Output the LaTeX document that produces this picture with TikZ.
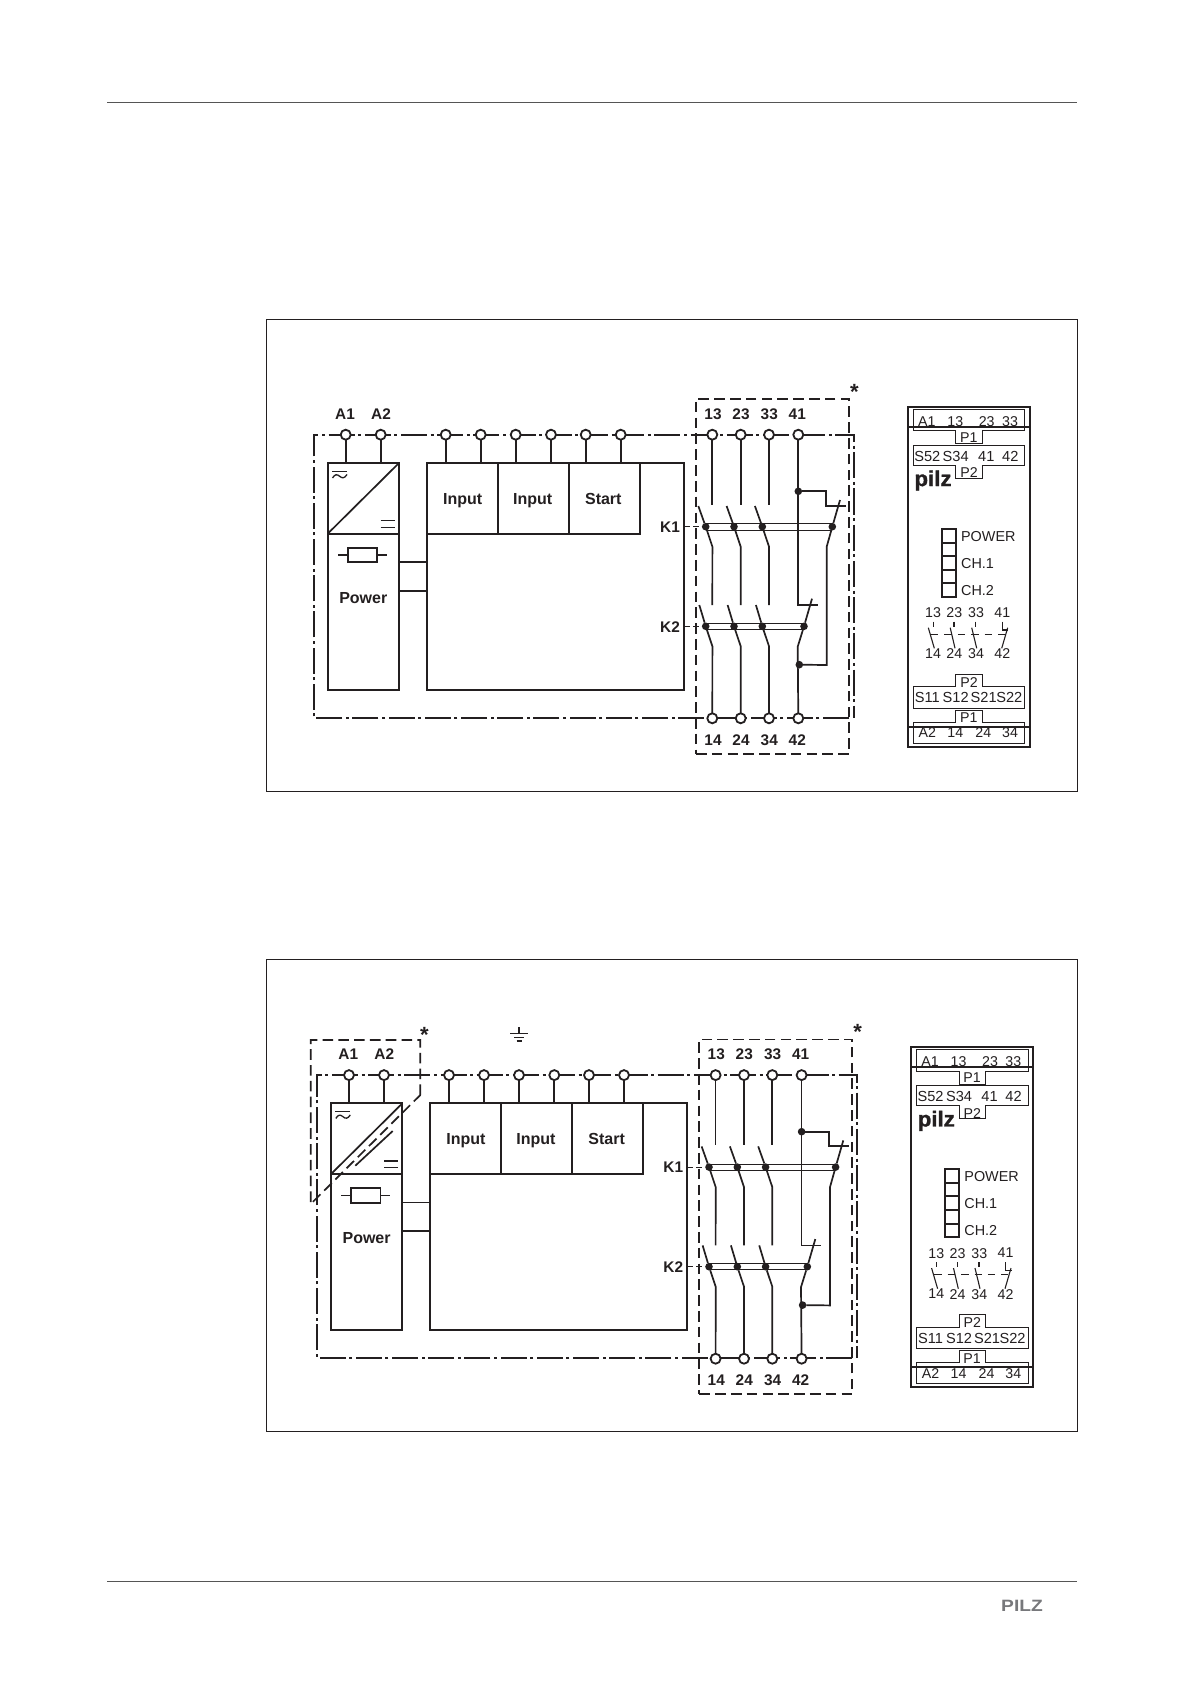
\documentclass[tikz,border=0pt]{standalone}
\usepackage{fontspec}
\setmainfont{Liberation Sans}
\newfontfamily\pilzfont[FakeBold=1.2]{Liberation Sans Bold}
\usetikzlibrary{backgrounds,calc}
\definecolor{ink}{HTML}{231F20}
\definecolor{rulegray}{HTML}{555555}
\definecolor{logogray}{HTML}{77787B}
\tikzset{
  wire/.style={draw=ink,line width=0.85pt},
  heavy/.style={draw=ink,line width=1.05pt},
  fine/.style={draw=ink,line width=0.45pt},
  thinwire/.style={draw=ink,line width=0.42pt},
  miniwire/.style={draw=ink,line width=0.55pt},
  strip/.style={draw=ink,line width=0.5pt},
  dashbox/.style={draw=ink,line width=0.85pt,dash pattern=on 5.3pt off 2.6pt},
  dashdot/.style={draw=ink,line width=0.9pt,dash pattern=on 13pt off 1.8pt on 1.5pt off 1.8pt},
  term/.style={circle,draw=ink,fill=white,line width=0.9pt,inner sep=0pt,minimum size=5pt,outer sep=0pt},
  jdot/.style={circle,fill=ink,inner sep=0pt,minimum size=3.8pt,outer sep=0pt},
  big/.style={font=\bfseries\fontsize{8}{8}\selectfont,inner sep=0pt,text=ink,text height=5.8pt,text depth=0pt},
  small/.style={font=\bfseries\fontsize{7.7}{8}\selectfont,inner sep=0pt,text=ink},
  pan/.style={font=\fontsize{7.1}{7}\selectfont,inner sep=0pt,text=ink},
  panb/.style={font=\fontsize{7.3}{8}\selectfont,inner sep=0pt,text=ink},
  panl/.style={font=\fontsize{7.2}{8}\selectfont,inner sep=0pt,text=ink,anchor=west},
  star/.style={font=\bfseries\fontsize{11}{11}\selectfont,inner sep=0pt,text=ink},
}
% \B{name}{x1}{y1}{x2}{y2}{style}: rectangular node between two corners
\newcommand\B[6]{\node[draw,#6,inner sep=0pt,outer sep=0pt,
  minimum width={(#4-#2)*0.5pt},minimum height={(#5-#3)*0.5pt}]
  (\pfx#1) at ({(#2+#4)/2},{(#3+#5)/2}) {};}
% \T{style}{name}{x}{y}{text}
\newcommand\T[5]{\node[#1] (\pfx#2) at (#3,#4) {#5};}
\newcommand\Term[3]{\node[term] (\pfx#1) at (#2,#3) {};}
\newcommand\Jd[3]{\node[jdot] (\pfx#1) at (#2,#3) {};}
\newcommand\pilzdiagram[3]{%
\def\pfx{#1}%
\begin{scope}[shift={(#2,#3)}]
  % enclosure
  \begin{scope}[on background layer]
    \draw[dashdot] (849,717.7) -- (314,717.7) -- (314,434.7) -- (854,434.7) -- (854,717.7);
  \end{scope}
  % terminals
  \Term{A1}{345.7}{434.7}\Term{A2}{380.7}{434.7}
  \Term{i1}{445.7}{434.7}\Term{i2}{480.7}{434.7}\Term{i3}{515.7}{434.7}
  \Term{i4}{551}{434.7}\Term{i5}{585.7}{434.7}\Term{i6}{620.7}{434.7}
  \Term{o13}{712.3}{434.7}\Term{o23}{740.7}{434.7}\Term{o33}{769}{434.7}\Term{o41}{798.3}{434.7}
  \Term{o14}{712.3}{718.3}\Term{o24}{740.7}{718.3}\Term{o34}{769}{718.3}\Term{o42}{798.3}{718.3}
  % boxes
  \B{pow}{327.7}{463}{399}{690}{heavy}
  \B{psu}{327.7}{463}{399}{533.7}{heavy}
  \B{main}{427}{463}{684}{690}{heavy}
  \B{in1}{427}{463}{498}{533.7}{heavy}
  \B{in2}{498}{463}{569}{533.7}{heavy}
  \B{st}{569}{463}{640}{533.7}{heavy}
  \B{fuse}{347.7}{547.7}{377.3}{562.3}{wire}
  \draw[wire] (338,555) -- (\pfx fuse.west) (\pfx fuse.east) -- (386.7,555);
  \draw[wire] (\pfx psu.south west) -- (\pfx psu.north east);
  % supply symbols
  \draw[fine] (332,471.3) -- (347,471.3);
  \draw[fine,line width=0.65pt] (332.5,478) .. controls (335,474) and (337,474) .. (339.7,476.3) .. controls (342,478.5) and (344.5,478.5) .. (347,474.5);
  \draw[wire,line width=0.65pt] (380.7,520.7) -- (395,520.7) (380.7,527.3) -- (395,527.3);
  % connectors to the boxes
  \foreach \n in {A1,A2} \draw[wire] (\pfx\n) -- (\pfx\n |- \pfx pow.north);
  \foreach \n in {i1,i2,i3,i4,i5,i6} \draw[wire] (\pfx\n) -- (\pfx\n |- \pfx main.north);
  \draw[wire] (399,562) -- (427,562) (399,590.7) -- (427,590.7);
  % labels
  \T{small}{tA1}{345}{414}{A1}\T{small}{tA2}{381}{414}{A2}
  \T{big}{tin1}{462.7}{498.7}{Input}\T{big}{tin2}{532.7}{498.7}{Input}\T{big}{tst}{603.3}{498.7}{Start}
  \T{big}{tpow}{363.3}{597.7}{Power}
  \T{small}{tK1}{670}{527}{K1}\T{small}{tK2}{670}{626.7}{K2}
  \T{small}{t13}{713}{414}{13}\T{small}{t23}{741}{414}{23}\T{small}{t33}{769.3}{414}{33}\T{small}{t41}{797.3}{414}{41}
  \T{small}{t14}{713}{740}{14}\T{small}{t24}{741}{740}{24}\T{small}{t34}{769.3}{740}{34}\T{small}{t42}{797.3}{740}{42}
  % dashed contact area
  \draw[dashbox] (696,753.7) -- (849,753.7) -- (849,399) -- (696,399) -- cycle;
  \T{star}{star}{854.3}{392}{*}
  % contacts K1 / K2
  \Jd{a1}{705.7}{526.7}\Jd{a2}{734}{526.7}\Jd{a3}{762.3}{526.7}\Jd{a4}{832.3}{526.7}
  \Jd{b1}{705.7}{626.3}\Jd{b2}{734}{626.3}\Jd{b3}{762.3}{626.3}\Jd{b4}{804}{626.3}
  \Jd{j1}{798.3}{491.3}\Jd{j2}{799.3}{664.7}
  \draw[thinwire] (705.7,523.7) -- (832.3,523.7) (705.7,530.3) -- (832.3,530.3);
  \draw[thinwire] (705.7,623.3) -- (804,623.3) (705.7,629.3) -- (804,629.3);
  \draw[thinwire,dash pattern=on 3pt off 1.5pt] (\pfx main.east |- \pfx a1) -- (\pfx a1);
  \draw[thinwire,dash pattern=on 3pt off 1.5pt] (\pfx main.east |- \pfx b1) -- (\pfx b1);
  \foreach \n/\u/\l in {o13/a1/o14,o23/a2/o24,o33/a3/o34}{
    \draw[wire] (\pfx\n) -- (\pfx\n |- 0,505);
    \draw[wire] ($(\pfx\u)+(-7.4,-20.7)$) -- (\pfx\u) -- ($(\pfx\u)+(6.7,20)$) -- (\pfx\l |- 0,605);
  }
  \foreach \n/\u/\l in {o13/b1/o14,o23/b2/o24,o33/b3/o34}{
    \draw[wire] ($(\pfx\u)+(-6.4,-21.3)$) -- (\pfx\u) -- ($(\pfx\u)+(6.7,20)$) -- (\pfx\l);
  }
  % 41 / 42 path
  \draw[wire] (\pfx o41) -- (\pfx o41 |- 0,605) -- (817.7,605);
  \draw[wire] (\pfx j1) -- (825.7,491.3) -- (825.7,505.7) -- (845.7,505.7);
  \draw[wire] (840,500) -- (\pfx a4) -- (826.7,546.7) -- (826.7,665) -- (\pfx j2);
  \draw[wire] (812,598.7) -- (\pfx b4) -- (797.7,646.7) -- (\pfx o42);
  % front panel
  \B{panel}{908}{406.7}{1030}{746.7}{heavy}
  \draw[strip] (913.3,409.3) -- (1024.7,409.3) -- (1024.7,431) -- (982.3,431) -- (982.3,444) -- (955.7,444) -- (955.7,431) -- (913.3,431) -- cycle;
  \draw[strip] (913.3,445.3) -- (1024.7,445.3) -- (1024.7,465.5) -- (982.3,465.5) -- (982.3,478.5) -- (955.7,478.5) -- (955.7,465.5) -- (913.3,465.5) -- cycle;
  \draw[strip] (955.7,674.3) -- (982.3,674.3) -- (982.3,686.7) -- (1024.7,686.7) -- (1024.7,708) -- (913.3,708) -- (913.3,686.7) -- (955.7,686.7) -- cycle;
  \draw[strip] (955.7,710) -- (982.3,710) -- (982.3,722.3) -- (1024.7,722.3) -- (1024.7,743.3) -- (913.3,743.3) -- (913.3,722.3) -- (955.7,722.3) -- cycle;
  \draw[heavy] (\pfx panel.west |- 0,426.7) -- (\pfx panel.east |- 0,426.7);
  \draw[heavy] (\pfx panel.west |- 0,727) -- (\pfx panel.east |- 0,727);
  \T{pan}{pA1}{926.7}{421.7}{A1}\T{pan}{p13}{955.3}{421.7}{13}\T{pan}{p23}{986.7}{421.7}{23}\T{pan}{p33}{1010}{421.7}{33}
  \T{pan}{pP1}{968.7}{437.3}{P1}
  \T{panb}{pS52}{927.3}{456}{S52}\T{panb}{pS34}{955.7}{456}{S34}\T{panb}{p41}{986.3}{456}{41}\T{panb}{p42}{1010.3}{456}{42}
  \T{pan}{pP2}{969}{472.7}{P2}
  \node[inner sep=0pt,text=ink,font=\pilzfont\fontsize{10.8}{12}\selectfont,xscale=1.03] (\pfx logo) at (933,480.5) {pilz};
  \B{l1}{941.7}{528.7}{955.7}{542.7}{heavy}
  \B{l2}{941.7}{542.7}{955.7}{556}{heavy}
  \B{l3}{941.7}{556}{955.7}{569.7}{heavy}
  \B{l4}{941.7}{569.7}{955.7}{583.3}{heavy}
  \B{l5}{941.7}{583.3}{955.7}{596.7}{heavy}
  \T{panl}{lp}{960.7}{536.3}{POWER}\T{panl}{lc1}{960.7}{563.3}{CH.1}\T{panl}{lc2}{960.7}{590.3}{CH.2}
  \T{pan}{m13}{933}{612.7}{13}\T{pan}{m23}{954.3}{612.7}{23}\T{pan}{m33}{976}{612.7}{33}\T{pan}{m41}{1002.3}{612.7}{41}
  \T{pan}{m14}{933}{653.7}{14}\T{pan}{m24}{954.3}{653.7}{24}\T{pan}{m34}{976}{653.7}{34}\T{pan}{m42}{1002.3}{653.7}{42}
  \draw[miniwire,dash pattern=on 3.7pt off 3pt] (931,634.3) -- (1005,634.3);
  \foreach \x/\l in {933.3/928.3,954/950.2,975.7/971.7}{
    \draw[miniwire] (\x,621.7) -- (\x,626.7);
    \draw[miniwire] (\l,627.7) -- (\x+1,648.3);
  }
  \draw[miniwire] (1002.3,621.7) -- (1002.3,630) -- (1008.3,630);
  \draw[miniwire] (1007.7,627.7) -- (1001.7,648.3);
  \T{pan}{pP3}{969}{682.3}{P2}
  \T{panb}{pS11}{927.3}{697.7}{S11}\T{panb}{pS12}{955.7}{697.7}{S12}\T{panb}{pS21}{983.7}{697.7}{S21}\T{panb}{pS22}{1009.3}{697.7}{S22}
  \T{pan}{pP4}{968.7}{717.7}{P1}
  \T{pan}{pA2}{927.3}{732.7}{A2}\T{pan}{p14}{955.3}{732.7}{14}\T{pan}{p24}{983.3}{732.7}{24}\T{pan}{p34}{1010}{732.7}{34}
\end{scope}}
\begin{document}
\begin{tikzpicture}[x=0.5pt,y=-0.5pt]
\useasboundingbox (0,0) rectangle (1191,1684);
\begin{scope}[on background layer]
\fill[white] (0,0) rectangle (1191,1684);
\end{scope}
\draw[rulegray,line width=0.5pt] (107.4,103) -- (1077,103);
\draw[rulegray,line width=0.5pt] (107.4,1581.3) -- (1077,1581.3);
\node[inner sep=0pt,text=logogray,font=\bfseries\fontsize{8.2}{8}\selectfont,xscale=1.17] (footlogo) at (1022,1605.8) {PILZ};
\draw[ink,line width=0.5pt] (266.3,319.5) rectangle (1077,791);
\draw[ink,line width=0.5pt] (266.3,959) rectangle (1077,1431);
\pilzdiagram{a}{0}{0}
\pilzdiagram{b}{3.3}{640.4}
% extras of the second diagram
\draw[dashbox] (420.3,1095) -- (420.3,1040) -- (310.7,1040) -- (310.7,1204) -- cycle;
\node[star] (bstarb) at (424.3,1035) {*};
\draw[wire] (355.3,1165.7) -- (392.7,1131);
\draw[wire,line width=0.65pt] (519,1027.3) -- (519,1033.3) (510.3,1033.3) -- (528,1033.3) (514.3,1037.3) -- (524,1037.3) (516.7,1041) -- (521.7,1041);
\end{tikzpicture}
\end{document}
